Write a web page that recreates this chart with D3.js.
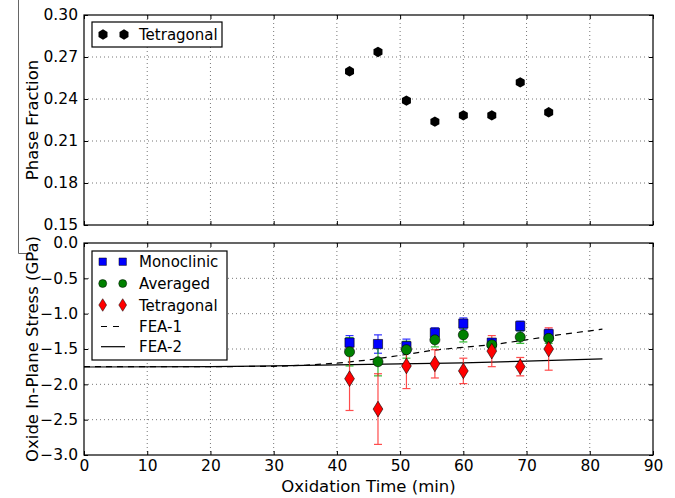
<!DOCTYPE html>
<html><head><meta charset="utf-8">
<script src="https://cdn.jsdelivr.net/npm/d3@7/dist/d3.min.js"></script>
<style>body{margin:0;background:#fff}svg{display:block;font-family:"DejaVu Sans",sans-serif}</style>
</head><body><div id="c"></div>
<script>
const times = [42, 46.5, 51, 55.5, 60, 64.5, 69, 73.5];
const phaseTetragonal = [0.2598, 0.2736, 0.2388, 0.2238, 0.2283, 0.2283, 0.2519, 0.2305];
const stressMono = [-1.41, -1.43, -1.46, -1.27, -1.14, -1.41, -1.175, -1.29];
const errMono = [0.10, 0.13, 0.10, 0.07, 0.08, 0.05, 0.07, 0.07];
const stressAvg = [-1.54, -1.68, -1.51, -1.37, -1.30, -1.44, -1.33, -1.35];
const errAvg = [0.20, 0.20, 0.12, 0.10, 0.10, 0.05, 0.09, 0.07];
const stressTet = [-1.92, -2.35, -1.74, -1.71, -1.81, -1.53, -1.75, -1.50];
const errTet = [0.45, 0.50, 0.32, 0.20, 0.18, 0.22, 0.13, 0.30];
const fea1T = [0, 10, 20, 30, 35, 40, 45, 50, 55, 60, 65, 70, 75, 82];
const fea1V = [-1.75, -1.75, -1.75, -1.745, -1.73, -1.70, -1.655, -1.59, -1.52, -1.475, -1.435, -1.37, -1.30, -1.22];
const fea2T = [0, 20, 30, 40, 50, 60, 70, 82];
const fea2V = [-1.755, -1.748, -1.74, -1.726, -1.71, -1.695, -1.672, -1.64];
const xTicks = [0, 10, 20, 30, 40, 50, 60, 70, 80, 90];
const yTopTicks = [0.15, 0.18, 0.21, 0.24, 0.27, 0.30];
const yBotTicks = [-3.0, -2.5, -2.0, -1.5, -1.0, -0.5, 0.0];

const W = 675, H = 498;
const L = 84, R = 653;
const top1 = 15, bot1 = 225, top2 = 243, bot2 = 455;
const TICK_FS = 15.5, LAB_FS = 16.5, LEG_FS = 15;
const svg = d3.select("#c").append("svg").attr("width", W).attr("height", H);
const x = d3.scaleLinear().domain([0, 90]).range([L, R]);
const y1 = d3.scaleLinear().domain([0.15, 0.30]).range([bot1, top1]);
const y2 = d3.scaleLinear().domain([-3.0, 0.0]).range([bot2, top2]);

// frame artifact at left
svg.append("path").attr("d", "M18.5,0V253.5H28").attr("fill", "none").attr("stroke", "#666").attr("stroke-width", 1);

function panel(y, top, bot, yTicks, fmt, xLabels) {
  const g = svg.append("g");
  g.selectAll(".gx").data(xTicks.slice(1, -1)).enter().append("line")
    .attr("x1", d => x(d)).attr("x2", d => x(d)).attr("y1", top).attr("y2", bot)
    .attr("stroke", "#777").attr("stroke-dasharray", "1,3").attr("stroke-width", 1);
  g.selectAll(".gy").data(yTicks.slice(1, -1)).enter().append("line")
    .attr("y1", d => y(d)).attr("y2", d => y(d)).attr("x1", L).attr("x2", R)
    .attr("stroke", "#777").attr("stroke-dasharray", "1,3").attr("stroke-width", 1);
  const ax = d3.axisBottom(x).tickValues(xTicks).tickSize(-4).tickFormat(xLabels ? d3.format("d") : "");
  const axT = d3.axisTop(x).tickValues(xTicks).tickSize(-4).tickFormat("");
  const ay = d3.axisLeft(y).tickValues(yTicks).tickSize(-4).tickFormat(fmt);
  const ayR = d3.axisRight(y).tickValues(yTicks).tickSize(-4).tickFormat("");
  const gb = g.append("g").attr("transform", `translate(0,${bot})`).call(ax);
  g.append("g").attr("transform", `translate(0,${top})`).call(axT);
  const gl = g.append("g").attr("transform", `translate(${L},0)`).call(ay);
  g.append("g").attr("transform", `translate(${R},0)`).call(ayR);
  g.selectAll(".domain").remove();
  g.selectAll(".tick line").attr("stroke", "#000");
  gl.selectAll("text").attr("x", -6).attr("font-size", TICK_FS).attr("fill", "#000").attr("font-family", "DejaVu Sans");
  gb.selectAll("text").attr("y", 5).attr("font-size", TICK_FS).attr("fill", "#000").attr("font-family", "DejaVu Sans");
  g.append("rect").attr("x", L).attr("y", top).attr("width", R - L).attr("height", bot - top)
    .attr("fill", "none").attr("stroke", "#000").attr("stroke-width", 1.2);
  return g;
}

const minus = s => s.replace("-", "\u2212");
const g1 = panel(y1, top1, bot1, yTopTicks, d3.format(".2f"), false);
const g2 = panel(y2, top2, bot2, yBotTicks, d => minus(d3.format(".1f")(d)), true);

const hexType = {draw(ctx, size){const r=Math.sqrt(size/2.598);for(let i=0;i<6;i++){const a=Math.PI/6+i*Math.PI/3;const px=r*Math.cos(a),py=r*Math.sin(a);i?ctx.lineTo(px,py):ctx.moveTo(px,py);}ctx.closePath();}};
const hex = d3.symbol().type(hexType).size(70);
const diamond = {draw(ctx, size){const h=Math.sqrt(size)*0.75;const w=h*0.62;ctx.moveTo(0,-h);ctx.lineTo(w,0);ctx.lineTo(0,h);ctx.lineTo(-w,0);ctx.closePath();}};
const dia = d3.symbol().type(diamond).size(110);

g1.selectAll(".hp").data(times).enter().append("path")
  .attr("d", hex).attr("transform", (d, i) => `translate(${x(d)},${y1(phaseTetragonal[i])})`)
  .attr("fill", "#000");

const lg1 = svg.append("g");
lg1.append("rect").attr("x", 92).attr("y", 22).attr("width", 130).attr("height", 25).attr("fill", "#fff").attr("stroke", "#000").attr("stroke-width", 1.2);
[103, 124].forEach(px => lg1.append("path").attr("d", hex).attr("transform", `translate(${px},34.5)`).attr("fill", "#000"));
lg1.append("text").attr("x", 139).attr("y", 40).attr("font-size", LEG_FS).text("Tetragonal");

const line = d3.line().x(d => x(d[0])).y(d => y2(d[1]));
g2.append("path").datum(fea2T.map((t, i) => [t, fea2V[i]])).attr("d", line).attr("fill", "none").attr("stroke", "#000").attr("stroke-width", 1.2);
g2.append("path").datum(fea1T.map((t, i) => [t, fea1V[i]])).attr("d", line).attr("fill", "none").attr("stroke", "#000").attr("stroke-width", 1.2).attr("stroke-dasharray", "6,5");

function errbars(vals, errs, color) {
  const gg = g2.append("g").attr("stroke", color).attr("stroke-width", 1.2).attr("opacity", 0.8);
  times.forEach((t, i) => {
    const cx = x(t), a = y2(vals[i] + errs[i]), b = y2(vals[i] - errs[i]);
    gg.append("line").attr("x1", cx).attr("x2", cx).attr("y1", a).attr("y2", b);
    gg.append("line").attr("x1", cx - 4).attr("x2", cx + 4).attr("y1", a).attr("y2", a);
    gg.append("line").attr("x1", cx - 4).attr("x2", cx + 4).attr("y1", b).attr("y2", b);
  });
}
errbars(stressMono, errMono, "#0000ff");
errbars(stressAvg, errAvg, "#00aa00");
errbars(stressTet, errTet, "#ff2020");

const sq = d3.symbol().type(d3.symbolSquare).size(85);
const ci = d3.symbol().type(d3.symbolCircle).size(80);
g2.selectAll(".ms").data(times).enter().append("path").attr("d", sq)
  .attr("transform", (d, i) => `translate(${x(d)},${y2(stressMono[i])})`).attr("fill", "#0000ff").attr("stroke", "#000").attr("stroke-width", 0.6);
g2.selectAll(".av").data(times).enter().append("path").attr("d", ci)
  .attr("transform", (d, i) => `translate(${x(d)},${y2(stressAvg[i])})`).attr("fill", "#008000").attr("stroke", "#000").attr("stroke-width", 0.6);
g2.selectAll(".tt").data(times).enter().append("path").attr("d", dia)
  .attr("transform", (d, i) => `translate(${x(d)},${y2(stressTet[i])})`).attr("fill", "#ff0000").attr("stroke", "#000").attr("stroke-width", 0.6);

const lg2 = svg.append("g");
lg2.append("rect").attr("x", 92).attr("y", 251).attr("width", 135).attr("height", 109).attr("fill", "#fff").attr("stroke", "#000").attr("stroke-width", 1.2);
const rows = [261.7, 283.5, 305, 326.5, 346.7];
const names = ["Monoclinic", "Averaged", "Tetragonal", "FEA-1", "FEA-2"];
const smallSq = d3.symbol().type(d3.symbolSquare).size(55);
const smallCi = d3.symbol().type(d3.symbolCircle).size(50);
const smallDia = d3.symbol().type(diamond).size(70);
[102.7, 122.7].forEach(px => {
  lg2.append("path").attr("d", smallSq).attr("transform", `translate(${px},${rows[0]})`).attr("fill", "#0000ff").attr("stroke", "#000").attr("stroke-width", 0.5);
  lg2.append("path").attr("d", smallCi).attr("transform", `translate(${px},${rows[1]})`).attr("fill", "#008000").attr("stroke", "#000").attr("stroke-width", 0.5);
  lg2.append("path").attr("d", smallDia).attr("transform", `translate(${px},${rows[2]})`).attr("fill", "#ff0000").attr("stroke", "#000").attr("stroke-width", 0.5);
});
lg2.append("line").attr("x1", 101).attr("x2", 125).attr("y1", rows[3]).attr("y2", rows[3]).attr("stroke", "#000").attr("stroke-width", 1.2).attr("stroke-dasharray", "6,6");
lg2.append("line").attr("x1", 101).attr("x2", 125).attr("y1", rows[4]).attr("y2", rows[4]).attr("stroke", "#000").attr("stroke-width", 1.2);
names.forEach((n, i) => lg2.append("text").attr("x", 139).attr("y", rows[i] + 5.5).attr("font-size", LEG_FS).text(n));

svg.append("text").attr("transform", `translate(38,${(top1 + bot1) / 2}) rotate(-90)`).attr("text-anchor", "middle").attr("font-size", LAB_FS).text("Phase Fraction");
svg.append("text").attr("transform", `translate(38,${(top2 + bot2) / 2}) rotate(-90)`).attr("text-anchor", "middle").attr("font-size", LAB_FS).text("Oxide In-Plane Stress (GPa)");
svg.append("text").attr("x", (L + R) / 2).attr("y", 492).attr("text-anchor", "middle").attr("font-size", LAB_FS).text("Oxidation Time (min)");
</script></body></html>
